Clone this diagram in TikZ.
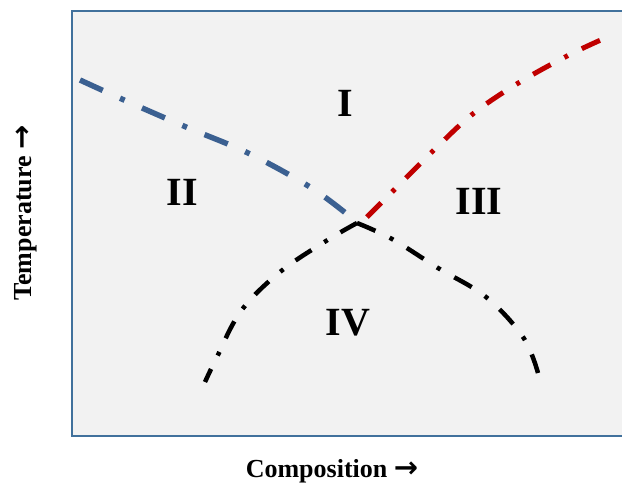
\documentclass[tikz,border=0pt]{standalone}
\usepackage{fontspec}
\setmainfont{Liberation Serif}
\newfontfamily\arrowfont{DejaVu Sans}
\definecolor{curveblue}{RGB}{59,96,145}
\definecolor{curvered}{RGB}{192,0,0}
\definecolor{frameblue}{RGB}{65,113,156}
\definecolor{panelgray}{RGB}{242,242,242}
\begin{document}
\begin{tikzpicture}[x=1pt,y=-1pt,
  region/.style={font=\bfseries\fontsize{40}{48}\selectfont, inner sep=0pt},
  axislabel/.style={font=\bfseries\fontsize{26}{30}\selectfont, inner sep=0pt},
  bluecurve/.style={line width=5.5pt, draw=curveblue, line cap=butt, dash pattern=on 25pt off 19pt on 5pt off 19pt},
  redcurve/.style={line width=5pt, draw=curvered, line cap=butt, dash pattern=on 20pt off 15.5pt on 4pt off 15.5pt},
  blackcurve/.style={line width=4.5pt, draw=black, line cap=butt, dash pattern=on 19pt off 15pt on 4pt off 15pt},
  blackcurvetwo/.style={line width=4.5pt, draw=black, line cap=butt, dash pattern=on 20pt off 15.8pt on 4.2pt off 15.8pt}
]
\useasboundingbox (0,0) rectangle (622,485);
\clip (0,0) rectangle (622,485);
\draw[frameblue, line width=2pt, fill=panelgray] (72,11) rectangle (640,436);
\coordinate (peak) at (357,223);
\draw[bluecurve] plot[smooth, tension=0.6] coordinates {(80,80) (124,100) (186,127) (248,153) (310,187) (348,215)};
\draw[redcurve] plot[smooth, tension=0.6] coordinates {(367,217) (396,188) (435,149) (474,113) (520,82) (569,55) (603,39)};
\draw[blackcurve] plot[smooth, tension=0.6] coordinates {(357,223) (326,241) (280,272) (241,311) (216,359) (205,382)};
\draw[blackcurvetwo] plot[smooth, tension=0.6] coordinates {(357,223) (392,239) (438,268) (486,297) (523,337) (538,373)};
\node[region] (r1) at (345,103) {I};
\node[region] (r2) at (182.5,192.5) {II};
\node[region] (r3) at (479,201.5) {III};
\node[region] (r4) at (348,322.5) {IV};
\node[axislabel, anchor=base] (xl) at (332,477) {Composition {\arrowfont\fontsize{29}{30}\selectfont →}};
\node[axislabel, anchor=base, rotate=90] (yl) at (31,213) {Temperature {\arrowfont\fontsize{29}{30}\selectfont →}};
\end{tikzpicture}
\end{document}
